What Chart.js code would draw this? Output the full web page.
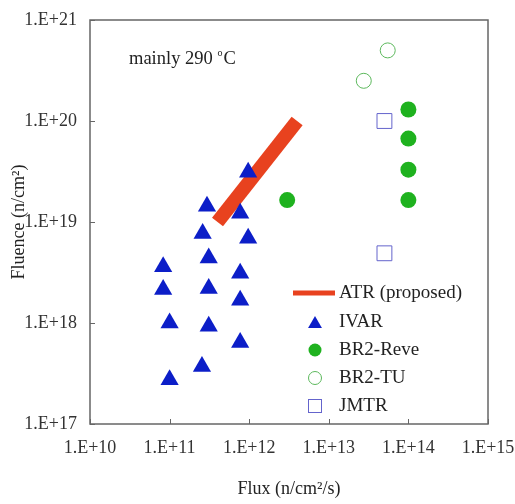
<!DOCTYPE html>
<html>
<head>
<meta charset="utf-8">
<script src="https://cdn.jsdelivr.net/npm/chart.js@4.4.1/dist/chart.umd.min.js"></script>
<style>
html, body { margin: 0; padding: 0; background: #fff; }
</style>
</head>
<body>
<canvas id="grafico" width="515" height="504"></canvas>
<script>
// tick values
const xTicks = [1e10, 1e11, 1e12, 1e13, 1e14, 1e15];
const yTicks = [1e17, 1e18, 1e19, 1e20, 1e21];

// ATR (proposed) band
const atrFlux = [4e11, 4e12];
const atrFluence = [1e19, 1e20];

// IVAR
const ivarFlux = [8.3e10, 8.3e10, 1.0e11, 1.0e11, 2.55e11, 3.1e11, 3.1e11, 3.1e11,
                  2.6e11, 2.95e11, 7.7e11, 9.7e11, 7.7e11, 7.7e11, 7.7e11, 9.7e11];
const ivarFluence = [3.6e18, 2.15e18, 1.0e18, 2.75e17, 3.7e17, 9.3e17, 2.2e18, 4.4e18,
                     7.7e18, 1.43e19, 1.22e19, 6.9e18, 3.1e18, 1.68e18, 6.4e17, 3.1e19];

// BR2-Reve
const reveFlux = [3e12, 1e14, 1e14, 1e14, 1e14];
const reveFluence = [1.65e19, 1.3e20, 6.7e19, 3.3e19, 1.65e19];

// BR2-TU
const tuFlux = [5.5e13, 2.75e13];
const tuFluence = [5e20, 2.5e20];

// JMTR
const jmtrFlux = [5e13, 5e13];
const jmtrFluence = [1e20, 4.9e18];

const azul = "#0c1ec8";
const vermelho = "#e8421f";
const verde = "#1fb21f";
const verdeClaro = "#5cb85c";
const roxo = "#6464cc";
const fonte = "'Liberation Serif', 'DejaVu Serif', serif";

function pares(xs, ys) {
    return xs.map((x, i) => ({ x: x, y: ys[i] }));
}

function formatarPotencia(v) {
    return "1.E+" + Math.round(Math.log10(v));
}

// desenha moldura, marcas para dentro, legenda e texto
const extras = {
    id: "extras",
    afterDatasetsDraw(chart) {
        const ctx = chart.ctx;
        const a = chart.chartArea;
        const sx = chart.scales.x;
        const sy = chart.scales.y;
        ctx.save();
        ctx.strokeStyle = "#666";
        ctx.lineWidth = 1.5;
        ctx.strokeRect(a.left, a.top, a.right - a.left, a.bottom - a.top);
        ctx.lineWidth = 1;
        ctx.beginPath();
        xTicks.forEach(t => {
            const px = Math.round(sx.getPixelForValue(t)) + 0.5;
            ctx.moveTo(px, a.bottom);
            ctx.lineTo(px, a.bottom - 5);
        });
        yTicks.forEach(t => {
            const py = Math.round(sy.getPixelForValue(t)) + 0.5;
            ctx.moveTo(a.left, py);
            ctx.lineTo(a.left + 5, py);
        });
        ctx.stroke();

        // texto de temperatura
        ctx.fillStyle = "#222";
        ctx.font = "18.5px " + fonte;
        ctx.textBaseline = "alphabetic";
        ctx.textAlign = "left";
        const t1 = "mainly 290 ";
        ctx.fillText(t1, 129, 64);
        let w = ctx.measureText(t1).width;
        ctx.font = "10px " + fonte;
        ctx.fillText("o", 129 + w, 56);
        ctx.font = "18.5px " + fonte;
        ctx.fillText("C", 129 + w + 6, 64);

        // legenda
        const lx = 315, tx = 339;
        const linhas = [
            { nome: "ATR (proposed)", y: 293 },
            { nome: "IVAR", y: 322 },
            { nome: "BR2-Reve", y: 350 },
            { nome: "BR2-TU", y: 378 },
            { nome: "JMTR", y: 406 }
        ];
        ctx.font = "19px " + fonte;
        ctx.textBaseline = "middle";
        linhas.forEach((l, i) => {
            ctx.fillStyle = "#222";
            ctx.fillText(l.nome, tx, l.y);
        });
        // amostra ATR
        ctx.strokeStyle = vermelho;
        ctx.lineWidth = 5;
        ctx.beginPath();
        ctx.moveTo(293, 293);
        ctx.lineTo(335, 293);
        ctx.stroke();
        // triângulo
        ctx.fillStyle = azul;
        let r = 8, cy = 324;
        ctx.beginPath();
        ctx.moveTo(lx, cy - r);
        ctx.lineTo(lx + r * 0.866, cy + r / 2);
        ctx.lineTo(lx - r * 0.866, cy + r / 2);
        ctx.closePath();
        ctx.fill();
        // círculo cheio
        ctx.fillStyle = verde;
        ctx.beginPath();
        ctx.arc(lx, 350, 6.5, 0, Math.PI * 2);
        ctx.fill();
        // círculo vazio
        ctx.strokeStyle = verdeClaro;
        ctx.lineWidth = 1;
        ctx.beginPath();
        ctx.arc(lx, 378, 6.5, 0, Math.PI * 2);
        ctx.stroke();
        // quadrado
        ctx.strokeStyle = roxo;
        ctx.strokeRect(lx - 6.5, 406 - 6.5, 13, 13);
        ctx.restore();
    }
};

const ctx = document.getElementById("grafico").getContext("2d");
const myChart = new Chart(ctx, {
    type: "scatter",
    data: {
        datasets: [
            {
                label: "ATR (proposed)",
                data: pares(atrFlux, atrFluence),
                showLine: true,
                borderColor: vermelho,
                borderWidth: 14,
                borderCapStyle: "butt",
                pointRadius: 0,
                order: 5
            },
            {
                label: "IVAR",
                data: pares(ivarFlux, ivarFluence),
                pointStyle: "triangle",
                pointRadius: 10.5,
                pointHoverRadius: 10.5,
                backgroundColor: azul,
                borderColor: azul,
                borderWidth: 0,
                order: 1
            },
            {
                label: "BR2-Reve",
                data: pares(reveFlux, reveFluence),
                pointStyle: "circle",
                pointRadius: 8,
                backgroundColor: verde,
                borderColor: verde,
                borderWidth: 0,
                order: 1
            },
            {
                label: "BR2-TU",
                data: pares(tuFlux, tuFluence),
                pointStyle: "circle",
                pointRadius: 7.5,
                backgroundColor: "rgba(255,255,255,0)",
                borderColor: verdeClaro,
                borderWidth: 1,
                order: 1
            },
            {
                label: "JMTR",
                data: pares(jmtrFlux, jmtrFluence),
                pointStyle: "rect",
                pointRadius: 10.5,
                backgroundColor: "rgba(255,255,255,0)",
                borderColor: roxo,
                borderWidth: 1,
                order: 1
            }
        ]
    },
    options: {
        responsive: false,
        animation: false,
        layout: { padding: { top: 20, right: 27, left: 0, bottom: 0 } },
        plugins: {
            legend: { display: false },
            tooltip: { enabled: false }
        },
        scales: {
            x: {
                type: "logarithmic",
                min: 1e10,
                max: 1e15,
                afterBuildTicks: (s) => { s.ticks = xTicks.map(v => ({ value: v })); },
                afterFit: (s) => { s.height = 80; s.paddingLeft = 0; s.paddingRight = 0; },
                grid: { display: false },
                border: { display: false },
                ticks: {
                    color: "#333",
                    font: { family: fonte, size: 18 },
                    padding: 5,
                    maxRotation: 0,
                    autoSkip: false,
                    callback: (v) => formatarPotencia(v)
                },
                title: {
                    display: true,
                    text: "Flux (n/cm\u00b2/s)",
                    color: "#222",
                    font: { family: fonte, size: 18 },
                    padding: { top: 28 }
                }
            },
            y: {
                type: "logarithmic",
                min: 1e17,
                max: 1e21,
                afterBuildTicks: (s) => { s.ticks = yTicks.map(v => ({ value: v })); },
                afterFit: (s) => { s.width = 90; },
                grid: { display: false },
                border: { display: false },
                ticks: {
                    color: "#333",
                    font: { family: fonte, size: 18 },
                    padding: 5,
                    autoSkip: false,
                    callback: (v) => formatarPotencia(v)
                },
                title: {
                    display: true,
                    text: "Fluence (n/cm\u00b2)",
                    color: "#222",
                    font: { family: fonte, size: 18 },
                    padding: { top: 8, bottom: 0 }
                }
            }
        }
    },
    plugins: [extras]
});
</script>
</body>
</html>
